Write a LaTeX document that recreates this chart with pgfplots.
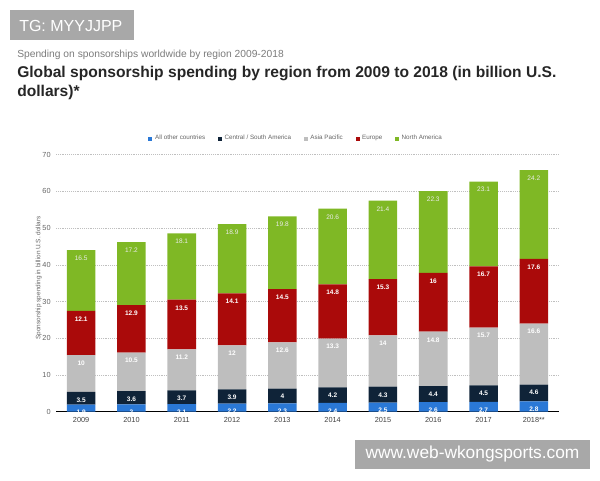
\documentclass[border=0pt]{standalone}
\usepackage{pgfplots}
\usepackage{pgfplotstable}
\pgfplotsset{compat=1.18}
\usepackage{fontspec}
\setmainfont{Liberation Sans}

\definecolor{cOther}{RGB}{42,120,214}
\definecolor{cCSA}{RGB}{15,35,56}
\definecolor{cAP}{RGB}{190,190,190}
\definecolor{cEU}{RGB}{170,10,10}
\definecolor{cNA}{RGB}{127,184,37}
\definecolor{cMark}{RGB}{168,168,168}
\definecolor{cTxt}{RGB}{100,100,100}

% Sponsorship spending (billion U.S. dollars) per region, 2009-2018
\pgfplotstableread{
idx other csa ap eu na
0 1.9 3.5 10 12.1 16.5
1 2 3.6 10.5 12.9 17.2
2 2.1 3.7 11.2 13.5 18.1
3 2.2 3.9 12 14.1 18.9
4 2.3 4 12.6 14.5 19.8
5 2.4 4.2 13.3 14.8 20.6
6 2.5 4.3 14 15.3 21.4
7 2.6 4.4 14.8 16 22.3
8 2.7 4.5 15.7 16.7 23.1
9 2.8 4.6 16.6 17.6 24.2
}\spend

\begin{document}
\begin{tikzpicture}
\path[use as bounding box] (0,0) rectangle (450pt,-360pt);

\begin{scope}[x=0.75pt,y=-0.75pt]
  % header
  \fill[cMark] (10,10) rectangle (134,40);
  \node[anchor=west,text=white,font=\fontsize{12}{14}\selectfont,inner sep=0] at (19,25.5) {TG: MYYJJPP};
  \node[anchor=base west,text=cTxt!85,font=\fontsize{7.7}{9}\selectfont,inner sep=0] at (17,57.5) {Spending on sponsorships worldwide by region 2009-2018};
  \node[anchor=base west,text=black!85,font=\fontsize{11.7}{13}\selectfont\bfseries,inner sep=0] at (17,77) {Global sponsorship spending by region from 2009 to 2018 (in billion U.S.};
  \node[anchor=base west,text=black!85,font=\fontsize{11.7}{13}\selectfont\bfseries,inner sep=0] at (17,96) {dollars)*};
  % footer
  \fill[cMark] (355,440) rectangle (590,469);
  \node[anchor=center,text=white,font=\fontsize{13}{14}\selectfont,inner sep=0] at (472.5,454.5) {www.web-wkongsports.com};
\end{scope}

\begin{axis}[
  at={(42pt,-308.775pt)}, anchor=south west,
  scale only axis, width=377.25pt, height=192.75pt,
  ybar stacked, bar width=21.4pt,
  xmin=-0.5, xmax=9.5, ymin=0, ymax=70,
  xtick={0,...,9},
  xticklabels={2009,2010,2011,2012,2013,2014,2015,2016,2017,2018**},
  ytick={0,10,...,70},
  major tick length=0pt,
  axis x line*=bottom, axis y line*=left,
  x axis line style={-, black, line width=1pt},
  y axis line style={draw=none},
  ymajorgrids, grid style={densely dotted, black!25, line width=0.5pt},
  /pgf/number format/assume math mode=true,
  ticklabel style={font=\fontsize{5.5}{6.5}\selectfont, text=cTxt},
  xticklabel style={text=black!75, yshift=-1pt},
  yticklabel style={xshift=-0.5pt},
  ylabel={Sponsorship spending in billion U.S. dollars},
  every axis y label/.style={at={(axis description cs:0,0.52)}, rotate=90,
    anchor=center, yshift=13pt, font=\fontsize{4.8}{5.5}\selectfont, text=cTxt},
  legend columns=-1,
  legend style={at={(0.478,1)}, anchor=south, yshift=5.4pt, draw=none, fill=none,
    font=\fontsize{4.7}{5.5}\selectfont, text=cTxt,
    /tikz/every even column/.append style={column sep=7.5pt}},
  legend image code/.code={\fill[#1] (0pt,-1.5pt) rectangle (3pt,1.5pt);},
  point meta=explicit,
  nodes near coords,
  every node near coord/.append style={anchor=center, yshift={\seg*1.3714pt-6pt},
    text=white, font=\fontsize{4.9}{5}\selectfont\bfseries, inner sep=0.5pt},
  /pgf/number format/fixed,
]
\addplot[fill=cOther, draw=none, visualization depends on={\thisrow{other} \as \seg}]
  table[x=idx, y=other, meta=other] {\spend};
\addplot[fill=cCSA, draw=none, visualization depends on={\thisrow{csa} \as \seg}]
  table[x=idx, y=csa, meta=csa] {\spend};
\addplot[fill=cAP, draw=none, visualization depends on={\thisrow{ap} \as \seg}]
  table[x=idx, y=ap, meta=ap] {\spend};
\addplot[fill=cEU, draw=none, visualization depends on={\thisrow{eu} \as \seg}]
  table[x=idx, y=eu, meta=eu] {\spend};
\addplot[fill=cNA, draw=none, visualization depends on={\thisrow{na} \as \seg},
  every node near coord/.append style={font=\fontsize{4.9}{5}\selectfont, text=white!92!black}]
  table[x=idx, y=na, meta=na] {\spend};
\legend{All other countries, Central / South America, Asia Pacific, Europe, North America}
\end{axis}
\end{tikzpicture}
\end{document}
